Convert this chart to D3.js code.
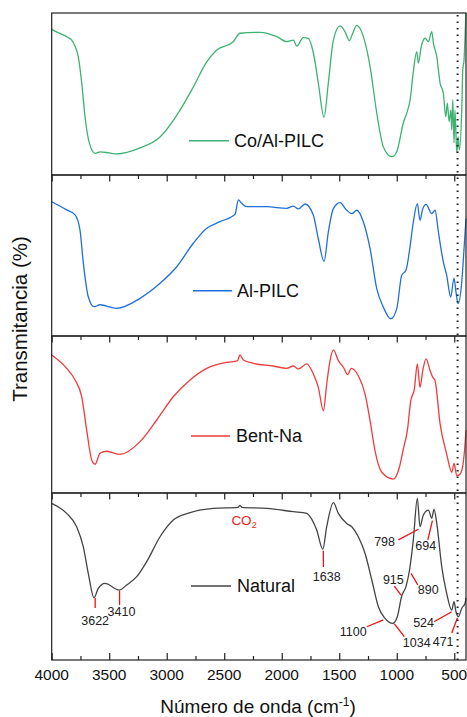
<!DOCTYPE html>
<html><head><meta charset="utf-8">
<script src="https://cdn.jsdelivr.net/npm/d3@7"></script>
<style>body{margin:0;background:#fff}svg{display:block}text{font-family:"Liberation Sans",Arial,sans-serif}</style>
</head><body><svg id="c" width="467" height="717"></svg>
<script>
// ---- DATA ----
const seriesNames = ["Co/Al-PILC", "Al-PILC", "Bent-Na", "Natural"];
const seriesColors = ["#3cb371", "#1f6fdc", "#ef3b3b", "#444444"];
const xTicksMajor = [4000, 3500, 3000, 2500, 2000, 1500, 1000, 500];
const xTicksMinor = [3750, 3250, 2750, 2250, 1750, 1250, 750];
const markerLine = 471;
// [wavenumber, transmittance (relative %)]
const coAlPilc = [[4000,89.9],[3950,88],[3900,86.5],[3870,85.4],[3850,84.6],[3826,83.3],[3800,80],[3769,73.0],[3739,56.8],[3710,35.8],[3673,19.8],[3623,13.4],[3580,14.3],[3500,13.6],[3435,13.0],[3232,16.7],[3058,23.5],[2884,40.1],[2769,54.3],[2652,69.9],[2565,77.2],[2421,82.3],[2363,87.5],[2189,88.1],[2043,85.4],[1957,82.3],[1899,83.3],[1870,79.6],[1812,84.8],[1769,84.4],[1725,75.3],[1682,56.8],[1632,35.6],[1595,56.8],[1551,83.3],[1493,92.0],[1450,88.5],[1412,82.9],[1383,87.5],[1348,92.4],[1290,85.4],[1232,66.9],[1174,38.3],[1117,17.5],[1043,11.3],[1000,14.4],[943,32.1],[905,40],[884,46.3],[856,63.8],[826,76.1],[812,69.1],[787,79.2],[754,84.4],[725,82.3],[696,88.5],[681,81.3],[652,73],[623,56.6],[595,50.4],[574,36],[560,44.4],[545,33],[530,40],[522,27.8],[513,46.3],[502,19.8],[494,40],[478,13.6],[467,23.6],[456,15.4],[435,40],[426,64.8],[415,71],[403,91.5],[398,100]];
const alPilc = [[4000,83.4],[3870,78.3],[3797,75.2],[3754,65.8],[3725,45.3],[3682,24.4],[3632,18.2],[3580,19.4],[3435,17.2],[3232,23.4],[3058,32.7],[2913,43.0],[2769,57.6],[2652,66.9],[2537,71.0],[2406,75.6],[2377,84.5],[2348,82.4],[2304,80.3],[2130,80.3],[1957,79.3],[1899,80.7],[1856,78.9],[1797,82.0],[1725,75.0],[1682,60.4],[1632,46.4],[1595,64.6],[1551,79.1],[1493,82.8],[1435,78.1],[1391,76.0],[1348,78.1],[1290,70.8],[1232,54.2],[1174,29.4],[1117,18.0],[1052,10.7],[1000,17.0],[957,37.7],[920,40.8],[889,53.2],[856,70.8],[821,82.2],[798,71.9],[774,79.1],[745,81.8],[696,76.0],[667,78.1],[638,64.6],[595,46.0],[566,37.7],[531,24.2],[502,36.0],[485,27.3],[467,20.1],[435,33.5],[415,54.2],[398,72.9]];
const bentNa = [[4000,87.9],[3870,79.4],[3797,72.0],[3739,61.3],[3696,40.1],[3652,21.0],[3623,18.3],[3580,25.3],[3522,26.6],[3406,24.6],[3232,32.7],[3087,46.5],[2943,61.3],[2797,72.0],[2652,79.4],[2478,83.2],[2386,84.1],[2363,87.9],[2334,84.7],[2247,82.6],[2073,80.9],[1957,79.4],[1899,80.9],[1856,79.0],[1783,82.2],[1725,75.8],[1682,67.3],[1638,52.4],[1609,69.4],[1580,84.3],[1551,91.1],[1508,84.3],[1464,80.1],[1426,75.4],[1397,79.4],[1334,74.7],[1276,63.1],[1232,46.1],[1189,26.9],[1130,13.2],[1030,8.9],[977,16.4],[943,28.0],[908,39.7],[878,58.8],[847,66.2],[821,82.2],[798,67.3],[774,77.9],[745,85.4],[710,77.9],[687,73.7],[667,71.5],[623,43.9],[566,24.8],[522,13.2],[502,18.9],[478,11.0],[449,12.1],[426,17.4],[406,31.2],[398,40]];
const natural = [[4000,93.8],[3870,87.8],[3783,79.8],[3725,67.8],[3682,51.9],[3632,37.3],[3595,42.9],[3537,45.9],[3412,41.9],[3348,44.9],[3261,49.9],[3174,58.9],[3058,73.8],[2943,83.8],[2797,88.2],[2595,90.8],[2380,91.4],[2363,92.6],[2345,91.4],[2130,90.8],[1899,88.8],[1783,87.8],[1754,85.8],[1696,77.8],[1643,66.3],[1609,79.8],[1551,94.2],[1508,87.8],[1435,81.8],[1391,79.8],[1334,73.8],[1276,63.9],[1217,47.9],[1160,31.9],[1102,24.9],[1035,21.9],[995,25.9],[957,38.3],[920,43.9],[889,53.9],[856,71.9],[821,96.8],[798,79.8],[769,86.8],[725,89.8],[696,84.9],[676,90.2],[652,81.8],[609,55.9],[566,39.9],[522,29.9],[502,34.9],[485,28.9],[464,25.9],[435,31.0],[406,34.0],[398,37]];
const seriesData = [coAlPilc, alPilc, bentNa, natural];
// annotations on the Natural panel: label, line from [wn,val] to [wn,val], label at [wn,val]
const annLabels = ["3622","3410","1638","798","694","915","890","1100","1034","524","471"];
const annLine = [[[3622,37.1],[3622,31.1]],[[3410,41.5],[3410,32.9]],[[1638,65.4],[1638,55.7]],[[986,71.9],[812,78.3]],[[730,71.9],[690,83.4]],[[1021,44.3],[963,38.9]],[[876,51.9],[817,44.9]],[[1261,19.9],[1117,24.0]],[[1021,21.6],[934,14.0]],[[676,22.9],[522,28.9]],[[522,16.2],[473,25.2]]];
const annText = [[3622,21.0,"middle"],[3393,26.3,"middle"],[1609,47.5,"middle"],[1015,68.4,"end"],[748,65.9,"middle"],[1030,45.5,"middle"],[817,39.5,"start"],[1261,14.3,"end"],[947,8.0,"start"],[676,20.0,"end"],[506,8.4,"end"]];
const co2Pos = [2328, 80.8];

// ---- LAYOUT ----
const svg = d3.select("#c");
const left = 51.7, right = 466;
const panelEdges = [13, 175, 336, 493, 660];
const x = d3.scaleLinear().domain([4000, 398]).range([left, right]);

seriesData.forEach((data, i) => {
  const top = panelEdges[i], bottom = panelEdges[i + 1];
  const y = d3.scaleLinear().domain([0, 100]).range([bottom, top]);
  const g = svg.append("g");
  const line = d3.line().x(d => x(d[0])).y(d => y(d[1])).curve(d3.curveMonotoneX);
  g.append("path").datum(data).attr("d", line).attr("fill", "none")
    .attr("stroke", seriesColors[i]).attr("stroke-width", 1.3).attr("stroke-linejoin", "round");
  if (i > 0) {
    g.append("g").attr("transform", `translate(0,${top})`)
      .call(d3.axisBottom(x).tickValues(xTicksMajor).tickSize(6.5).tickFormat(""))
      .call(a => a.select(".domain").remove());
    g.append("g").attr("transform", `translate(0,${top})`)
      .call(d3.axisBottom(x).tickValues(xTicksMinor).tickSize(4).tickFormat(""))
      .call(a => a.select(".domain").remove());
  }
  g.append("rect").attr("x", left).attr("y", top).attr("width", right - left).attr("height", bottom - top)
    .attr("fill", "none").attr("stroke", "#222").attr("stroke-width", 1.2);
  if (i === 3) {
    g.append("g").attr("transform", `translate(0,${bottom})`)
      .call(d3.axisTop(x).tickValues(xTicksMajor).tickSize(7).tickFormat(""))
      .call(a => a.select(".domain").remove());
    g.append("g").attr("transform", `translate(0,${bottom})`)
      .call(d3.axisTop(x).tickValues(xTicksMinor).tickSize(4).tickFormat(""))
      .call(a => a.select(".domain").remove());
    svg.selectAll(".tl").data(xTicksMajor).enter().append("text")
      .attr("x", d => x(d)).attr("y", 680).attr("text-anchor", "middle")
      .attr("font-size", 15.5).attr("fill", "#111").text(d => d);
    annLine.forEach((l, k) => {
      g.append("line").attr("x1", x(l[0][0])).attr("y1", y(l[0][1])).attr("x2", x(l[1][0])).attr("y2", y(l[1][1]))
        .attr("stroke", "#ee1111").attr("stroke-width", 1.3);
      g.append("text").attr("x", x(annText[k][0])).attr("y", y(annText[k][1])).attr("text-anchor", annText[k][2])
        .attr("font-size", 12.5).attr("fill", "#222").text(annLabels[k]);
    });
    const co2 = g.append("text").attr("x", x(co2Pos[0])).attr("y", y(co2Pos[1])).attr("text-anchor", "middle")
      .attr("font-size", 13.5).attr("fill", "#ee2222");
    co2.append("tspan").text("CO");
    co2.append("tspan").attr("font-size", 9).attr("dy", 3).text("2");
  }
});

svg.selectAll(".tick line").attr("stroke", "#222").attr("stroke-width", 1.2);

const legendPos = [[189, 229, 140.7, 234, 146.7], [193, 232, 290.7, 237, 297.3], [191, 230, 436, 236, 441.7], [191, 231, 586, 237, 592.3]];
legendPos.forEach((p, i) => {
  svg.append("line").attr("x1", p[0]).attr("x2", p[1]).attr("y1", p[2]).attr("y2", p[2])
    .attr("stroke", seriesColors[i]).attr("stroke-width", 1.5);
  svg.append("text").attr("x", p[3]).attr("y", p[4]).attr("font-size", 18).attr("fill", "#111").text(seriesNames[i]);
});

svg.append("line").attr("x1", x(markerLine)).attr("x2", x(markerLine)).attr("y1", panelEdges[0] + 2).attr("y2", panelEdges[4])
  .attr("stroke", "#222").attr("stroke-width", 2).attr("stroke-dasharray", "1.5,5");

const xt = svg.append("text").attr("x", 258).attr("y", 713).attr("text-anchor", "middle").attr("font-size", 19).attr("fill", "#111");
xt.append("tspan").text("Número de onda (cm");
xt.append("tspan").attr("font-size", 12).attr("dy", -7).text("-1");
xt.append("tspan").attr("dy", 7).text(")");
svg.append("text").attr("transform", "translate(27,319) rotate(-90)").attr("text-anchor", "middle")
  .attr("font-size", 20.5).attr("fill", "#111").text("Transmitancia (%)");
</script></body></html>
